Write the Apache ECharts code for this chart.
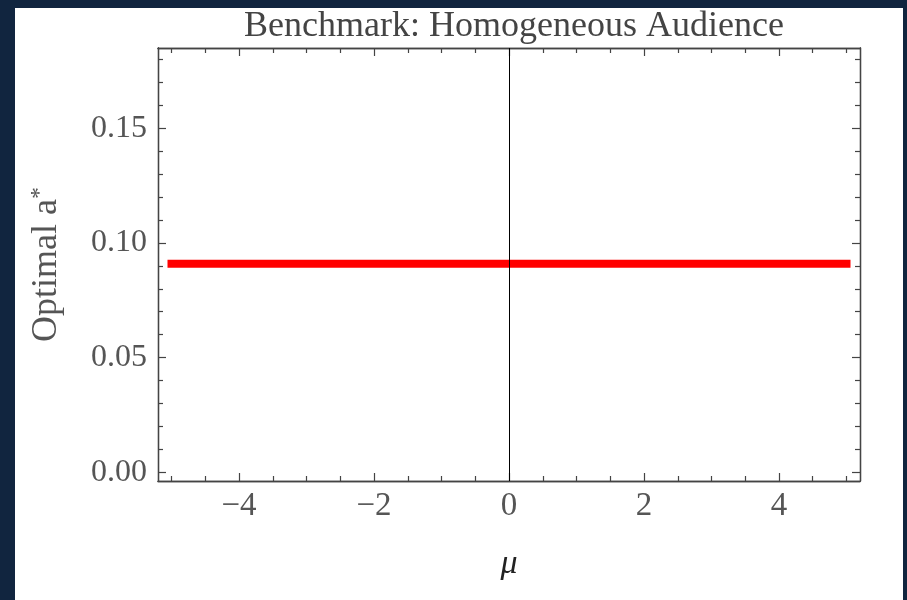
<!DOCTYPE html>
<html>
<head>
<meta charset="utf-8">
<script src="https://cdn.jsdelivr.net/npm/echarts@6/dist/echarts.min.js"></script>
<style>
  html, body { margin: 0; padding: 0; width: 907px; height: 600px; background: #11253f; overflow: hidden; }
  #chart { position: absolute; left: 15px; top: 8px; width: 888px; height: 592px; background: #ffffff; }
</style>
</head>
<body>
<div id="chart"></div>
<script>
// ---- data ----
const titleText = 'Benchmark: Homogeneous Audience';
const muValues = [-5, 5];
const optimalA = [0.0909, 0.0909];
const xMajorTicks = [-4, -2, 0, 2, 4];
const xMinorTicks = [-5, -4.5, -3.5, -3, -2.5, -1.5, -1, -0.5, 0.5, 1, 1.5, 2.5, 3, 3.5, 4.5, 5];
const yMajorTicks = [0, 0.05, 0.10, 0.15];
const yMinorTicks = [0.01, 0.02, 0.03, 0.04, 0.06, 0.07, 0.08, 0.09, 0.11, 0.12, 0.13, 0.14, 0.16, 0.17, 0.18];
const xRange = [-5.2, 5.2];
const yRange = [-0.0038, 0.185];

const FONT = '"Liberation Serif", "DejaVu Serif", serif';
const LABEL_COLOR = '#555555';
const FRAME = '#444444';

function fmtX(v) {
  const n = Math.round(v);
  return n < 0 ? '\u2212' + Math.abs(n) : String(n);
}
function fmtY(v) { return Number(v).toFixed(2); }

function xAxisDef(pos, ticks, len, showLabel, extra) {
  return Object.assign({
    type: 'value', position: pos, min: xRange[0], max: xRange[1],
    axisLine: { show: true, onZero: false, lineStyle: { color: FRAME, width: 1.3 } },
    axisTick: { show: true, inside: true, length: len, customValues: ticks, lineStyle: { color: FRAME, width: 1.2 } },
    axisLabel: showLabel ? { show: true, customValues: ticks, formatter: fmtX, fontFamily: FONT, fontSize: 33, color: LABEL_COLOR, margin: 9 } : { show: false },
    splitLine: { show: false }
  }, extra || {});
}
function yAxisDef(pos, ticks, len, showLabel, extra) {
  return Object.assign({
    type: 'value', position: pos, min: yRange[0], max: yRange[1],
    axisLine: { show: true, onZero: false, lineStyle: { color: FRAME, width: 1.3 } },
    axisTick: { show: true, inside: true, length: len, customValues: ticks, lineStyle: { color: FRAME, width: 1.2 } },
    axisLabel: showLabel ? { show: true, customValues: ticks, formatter: fmtY, fontFamily: FONT, fontSize: 32, color: LABEL_COLOR, margin: 11 } : { show: false },
    splitLine: { show: false }
  }, extra || {});
}

const chart = echarts.init(document.getElementById('chart'), null, { renderer: 'canvas' });
chart.setOption({
  animation: false,
  backgroundColor: '#ffffff',
  title: {
    text: titleText,
    left: 494, top: -4, textAlign: 'center',
    textStyle: { fontFamily: FONT, fontSize: 36, fontWeight: 'normal', color: '#444444' }
  },
  grid: { left: 143, right: 43, top: 40, bottom: 119, containLabel: false },
  xAxis: [
    xAxisDef('bottom', xMajorTicks, 8, true, {
      name: 'μ', nameLocation: 'middle', nameGap: 66,
      nameTextStyle: { fontFamily: FONT, fontSize: 34, fontStyle: 'italic', color: '#222222' }
    }),
    xAxisDef('bottom', xMinorTicks, 5, false),
    xAxisDef('top', xMajorTicks, 8, false),
    xAxisDef('top', xMinorTicks, 5, false)
  ],
  yAxis: [
    yAxisDef('left', yMajorTicks, 8, true, {
      name: 'Optimal a{sup|*}', nameLocation: 'middle', nameGap: 92, nameRotate: 90,
      nameTextStyle: { fontFamily: FONT, fontSize: 36, color: LABEL_COLOR,
        rich: { sup: { fontFamily: FONT, fontSize: 24, color: LABEL_COLOR, verticalAlign: 'top', padding: [0, 0, 14, 0] } } }
    }),
    yAxisDef('left', yMinorTicks, 5, false),
    yAxisDef('right', yMajorTicks, 8, false),
    yAxisDef('right', yMinorTicks, 5, false)
  ],
  series: [{
    type: 'line',
    xAxisIndex: 0, yAxisIndex: 0,
    data: muValues.map((m, i) => [m, optimalA[i]]),
    showSymbol: false,
    lineStyle: { color: '#ff0000', width: 8, cap: 'square' },
    markLine: {
      silent: true, symbol: 'none', label: { show: false },
      lineStyle: { color: '#000000', width: 1, type: 'solid' },
      data: [{ xAxis: 0 }]
    }
  }]
});
</script>
</body>
</html>
